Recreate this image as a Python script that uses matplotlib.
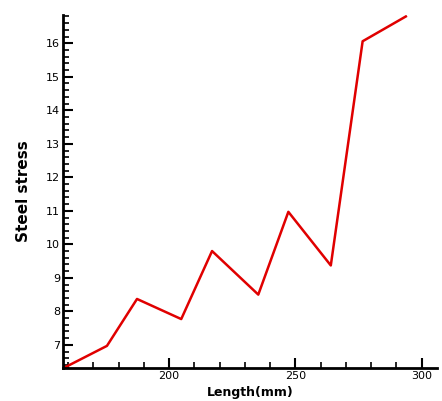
import numpy as np
import matplotlib.pyplot as plt
from matplotlib.ticker import MultipleLocator

# values
length_mm = [158, 175.4, 187.3, 204.8, 217.0, 235.3, 247.2, 264.0, 276.6, 293.7]
steel_stress = [6.3, 6.97, 8.37, 7.77, 9.8, 8.5, 10.97, 9.37, 16.06, 16.8]

fig = plt.figure(figsize=(4.42, 4.01), dpi=100)
ax = fig.add_axes([0.1425, 0.0823, 0.846, 0.880])

ax.plot(length_mm, steel_stress, color='#e00000', linewidth=1.8)

ax.set_xlim(158, 306)
ax.set_ylim(6.31, 16.84)

ax.xaxis.set_major_locator(MultipleLocator(50))
ax.xaxis.set_minor_locator(MultipleLocator(10))
ax.yaxis.set_major_locator(MultipleLocator(1))
ax.yaxis.set_minor_locator(MultipleLocator(0.2))

ax.tick_params(which='major', direction='in', length=7, width=1.5, labelsize=8, pad=2)
ax.tick_params(which='minor', direction='in', length=4, width=1.2)

for side in ['top', 'right']:
    ax.spines[side].set_visible(False)
for side in ['left', 'bottom']:
    ax.spines[side].set_linewidth(2)

ax.set_xlabel('Length(mm)', fontsize=9, fontweight='bold', labelpad=4)
ax.set_ylabel('Steel stress', fontsize=11, fontweight='bold', labelpad=11)

fig.savefig('out.png', dpi=100)
